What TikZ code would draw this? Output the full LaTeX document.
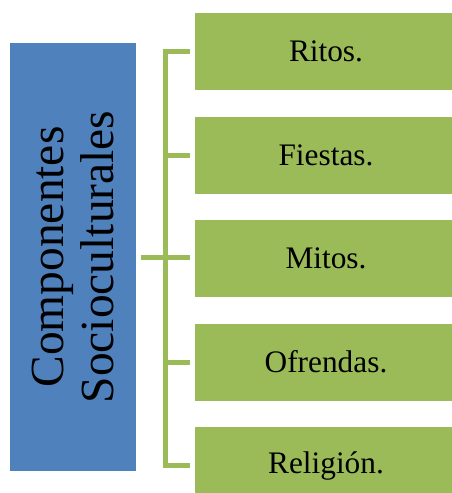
\documentclass[tikz,border=0pt]{standalone}
\usepackage{fontspec}
\setmainfont{Liberation Serif}
\usetikzlibrary{positioning}

\definecolor{compblue}{HTML}{4F81BD}
\definecolor{itemgreen}{HTML}{9BBB59}

\tikzset{
    itembox/.style={fill=itemgreen, inner sep=0pt, minimum width=196.5pt, minimum height=57.75pt, font=\fontsize{23.5}{28}\selectfont},
    compbox/.style={fill=compblue, inner sep=0pt, rotate=90, minimum width=321pt, minimum height=94.5pt, align=center, font=\fontsize{35.6}{37.5}\selectfont},
    conn/.style={draw=itemgreen, line width=3.75pt}
}

\begin{document}
\begin{tikzpicture}[x=0.75pt, y=-0.75pt]
        \path[use as bounding box, clip] (0,0) rectangle (452,493);
        \node[compbox] (comp) at (73,257) {Componentes\\Socioculturales};
        \node[itembox] (ritos) at (326,51.5) {Ritos.};
        \node[itembox, below=19.5pt of ritos] (fiestas) {Fiestas.};
        \node[itembox, below=19.5pt of fiestas] (mitos) {Mitos.};
        \node[itembox, below=19.5pt of mitos] (ofrendas) {Ofrendas.};
        \node[itembox, below=19.5pt of ofrendas] (religion) {Religión.};
        \coordinate (spine) at (165.5,0);
        \draw[conn] ([xshift=-3.75pt]ritos.west) -| (spine |- religion.west) -- ([xshift=-3.75pt]religion.west);
        \foreach \n in {fiestas, ofrendas}
            \draw[conn] ([xshift=-3.75pt]\n.west) -- (spine |- \n.west);
        \draw[conn] ([xshift=3.75pt]comp.south) -- ([xshift=-3.75pt]comp.south -| mitos.west);
    \end{tikzpicture}
\end{document}
